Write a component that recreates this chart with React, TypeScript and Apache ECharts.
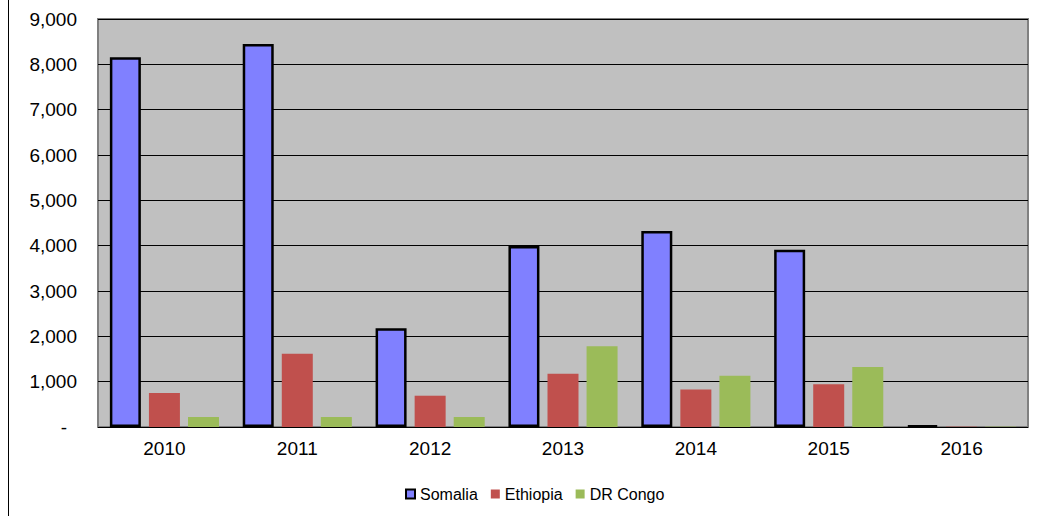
import React, { useEffect, useRef } from "react";
import * as echarts from "echarts";

const years = ["2010", "2011", "2012", "2013", "2014", "2015", "2016"];
const somalia = [8155, 8450, 2180, 3990, 4325, 3910, 35];
const ethiopia = [750, 1615, 690, 1175, 825, 945, 8];
const drCongo = [220, 220, 220, 1780, 1130, 1325, 8];

const FONT = "Liberation Sans, Arial, sans-serif";

export default function App() {
  const ref = useRef<HTMLDivElement>(null);
  useEffect(() => {
    if (!ref.current) return;
    const chart = echarts.init(ref.current, null, { renderer: "svg" });
    chart.setOption({
      animation: false,
      backgroundColor: "#ffffff",
      textStyle: { fontFamily: FONT },
      grid: {
        left: 98,
        right: 17,
        top: 19,
        bottom: 89,
        show: true,
        backgroundColor: "#C0C0C0",
        borderColor: "#808080",
        borderWidth: 2,
      },
      graphic: [
        {
          type: "line",
          shape: { x1: 8.5, y1: 0, x2: 8.5, y2: 516 },
          style: { stroke: "#000", lineWidth: 1 },
        },
      ],
      legend: {
        left: 400,
        top: 481,
        itemWidth: 9,
        itemHeight: 9,
        itemGap: 13,
        textStyle: { fontSize: 16, color: "#000", fontFamily: FONT },
        icon: "rect",
        data: ["Somalia", "Ethiopia", "DR Congo"],
      },
      xAxis: {
        type: "category",
        data: years,
        axisLine: { show: false },
        axisTick: { show: false },
        axisLabel: { fontSize: 19, color: "#000", margin: 12, fontFamily: FONT },
      },
      yAxis: {
        type: "value",
        min: 0,
        max: 9000,
        interval: 1000,
        axisLine: { show: false },
        axisTick: { show: false },
        splitLine: { lineStyle: { color: "#000", width: 1 } },
        axisLabel: {
          fontSize: 19,
          color: "#000",
          margin: 21,
          fontFamily: FONT,
          formatter: (v: number) =>
            v === 0 ? "{d|-}" : v.toLocaleString("en-US"),
          rich: { d: { fontSize: 19, color: "#000", padding: [0, 10, 0, 0] } },
        },
      },
      series: [
        {
          name: "Somalia",
          type: "bar",
          data: somalia,
          barWidth: 31,
          barGap: "26%",
          itemStyle: { color: "#8080FF", borderColor: "#000", borderWidth: 2.5 },
        },
        {
          name: "Ethiopia",
          type: "bar",
          data: ethiopia,
          barWidth: 31,
          itemStyle: { color: "#C0504D" },
        },
        {
          name: "DR Congo",
          type: "bar",
          data: drCongo,
          barWidth: 31,
          itemStyle: { color: "#9BBB59" },
        },
      ],
    });
    return () => chart.dispose();
  }, []);
  return (
    <div
      ref={ref}
      style={{ position: "absolute", left: 0, top: 0, width: 1045, height: 516 }}
    />
  );
}
